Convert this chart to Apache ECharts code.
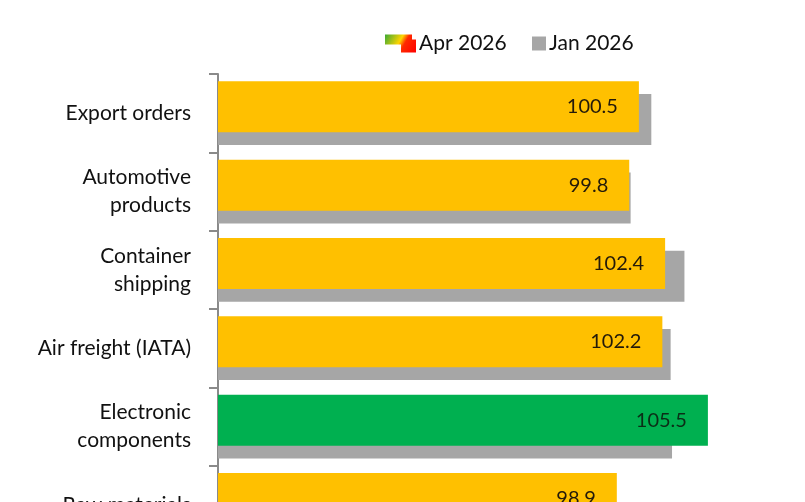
<!DOCTYPE html>
<html>
<head>
<meta charset="utf-8">
<script src="https://cdn.jsdelivr.net/npm/echarts@6/dist/echarts.min.js"></script>
<style>
    html, body { margin: 0; padding: 0; background: #fff; overflow: hidden; }
    /* the source picture is cut off at the bottom, so the chart runs past the window */
    #chart { width: 805px; height: 580px; }
</style>
</head>
<body>
<div id="chart"></div>
<script>
    // values
    const categories = ['Export orders', 'Automotive\nproducts', 'Container\nshipping', 'Air freight (IATA)', 'Electronic\ncomponents', 'Raw materials']
    const apr2026 = [100.5, 99.8, 102.4, 102.2, 105.5, 98.9]
    const jan2026 = [101.4, 99.9, 103.8, 102.8, 102.9, 98.4]
    const highlight = [false, false, false, false, true, false]

    const orange = '#ffc000'
    const green = '#00b050'
    const font = 'Lato, "Open Sans", sans-serif'

    let myChart = echarts.init(document.getElementById('chart'))

    let aprData = apr2026.map((v, i) => ({
        value: v,
        itemStyle: { color: highlight[i] ? green : orange },
        label: { color: highlight[i] ? '#0b2e17' : '#231a0a' }
    }))

    let option = {
        animation: false,
        legend: [
            {
                data: ['Apr 2026'],
                left: 380,
                top: 28,
                itemWidth: 31,
                itemHeight: 18,
                itemGap: 0,
                icon: 'path://M0,0 L27,0 L27,5 L31,5 L31,18 L16,18 L16,10 L0,10 Z',
                textStyle: { fontFamily: font, fontSize: 21, color: '#111', padding: [0, 0, 0, -2] }
            },
            {
                data: ['Jan 2026'],
                left: 527,
                top: 28,
                itemWidth: 14,
                itemHeight: 14,
                icon: 'rect',
                textStyle: { fontFamily: font, fontSize: 21, color: '#111', padding: [0, 0, 0, -2] }
            }
        ],
        grid: {
            left: 218,
            top: 74,
            width: 552,
            height: 470,
            containLabel: false
        },
        xAxis: {
            type: 'value',
            min: 70,
            max: 110,
            show: false
        },
        yAxis: {
            type: 'category',
            inverse: true,
            data: categories,
            axisLine: { show: true, lineStyle: { color: '#8a8a8a', width: 2 } },
            axisTick: { show: true, length: 9, lineStyle: { color: '#8a8a8a', width: 2 } },
            axisLabel: {
                fontFamily: font,
                fontSize: 21,
                color: '#111',
                lineHeight: 28,
                margin: 27,
                align: 'right'
            }
        },
        series: [
            {
                name: 'Apr 2026',
                type: 'bar',
                z: 3,
                barWidth: 51,
                barGap: '-75%',
                itemStyle: {
                    color: new echarts.graphic.LinearGradient(0, 0, 1, 1, [
                        { offset: 0, color: '#3aa935' },
                        { offset: 0.45, color: '#ffd500' },
                        { offset: 0.6, color: '#ff2a00' },
                        { offset: 1, color: '#ff0000' }
                    ])
                },
                label: {
                    show: true,
                    position: 'insideRight',
                    distance: 21,
                    fontFamily: font,
                    fontSize: 20,
                    formatter: p => p.value.toFixed(1)
                },
                data: aprData
            },
            {
                name: 'Jan 2026',
                type: 'bar',
                z: 2,
                barWidth: 51,
                itemStyle: { color: '#a6a6a6' },
                data: jan2026
            }
        ]
    }
    myChart.setOption(option)
</script>
</body>
</html>
